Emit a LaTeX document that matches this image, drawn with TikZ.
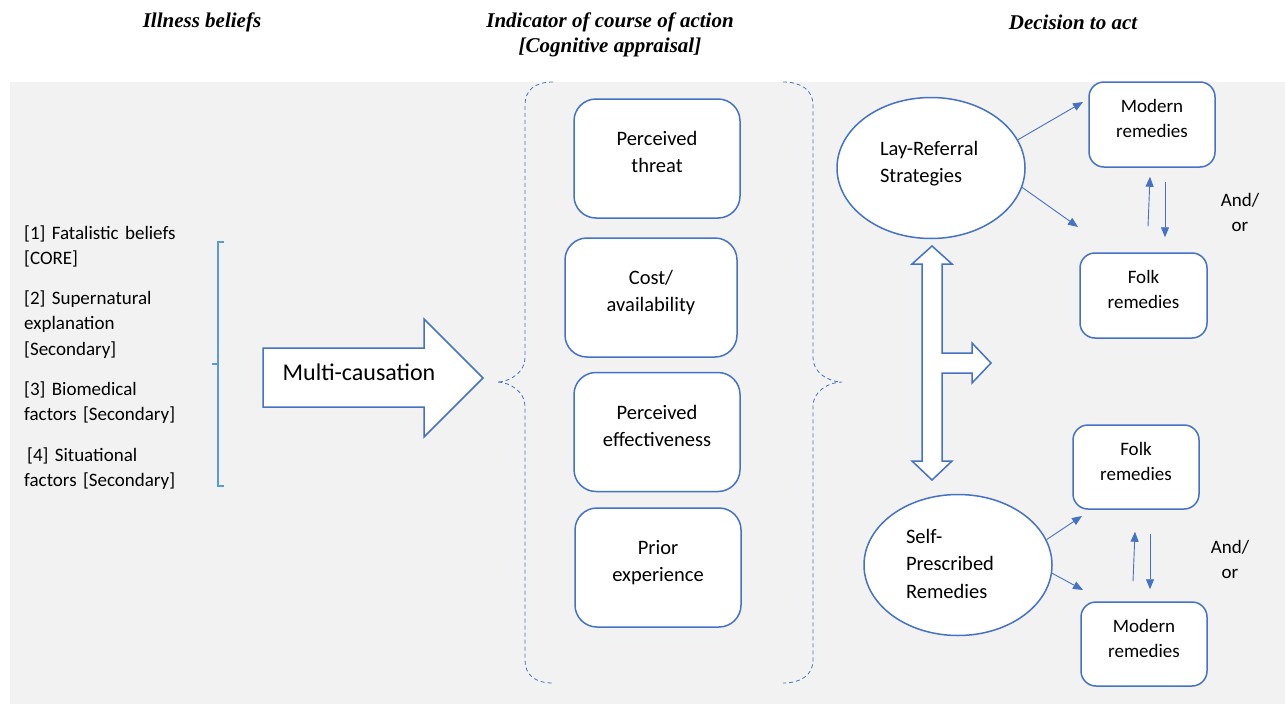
\documentclass[tikz,border=0pt]{standalone}
\usepackage{fontspec}
\setmainfont{Carlito}
\newfontfamily\headfont{Liberation Serif}
\usetikzlibrary{arrows.meta,shapes.geometric}
\definecolor{boxblue}{RGB}{68,114,196}
\definecolor{brkblue}{RGB}{91,155,213}
\definecolor{bggrey}{RGB}{242,242,242}
\tikzset{
  head/.style={font=\headfont\bfseries\itshape\fontsize{21}{25}\selectfont, align=center},
  factor/.style={draw=boxblue, line width=1.5pt, fill=white, rounded corners=22pt,
    minimum width=166pt, inner ysep=0pt, text height=73.5pt, text depth=45.5pt,
    align=center, font=\fontsize{20.5}{27}\selectfont},
  remedy/.style={draw=boxblue, line width=1.5pt, fill=white, rounded corners=15pt,
    minimum width=126pt, inner ysep=0pt, text height=55.5pt, text depth=29.5pt,
    align=center, font=\fontsize{19}{25.5}\selectfont},
  strat/.style={ellipse, draw=boxblue, line width=1.5pt, fill=white,
    minimum width=188pt, minimum height=141pt, text height=14pt, align=left,
    font=\fontsize{20.5}{27.5}\selectfont},
  arr/.style={draw=boxblue, line width=0.9pt, -{Triangle[length=10pt,width=8pt]}},
  blockarrow/.style={draw=boxblue, line width=1.5pt, fill=white},
  brace/.style={draw=boxblue, line width=0.8pt, dash pattern=on 4pt off 3pt},
}
\begin{document}
\begin{tikzpicture}[x=1pt,y=-1pt]
	\useasboundingbox (0,0) rectangle (1285,704);
	\fill[bggrey] (10,82) rectangle (1285,704);
	
	% column titles
	\node[head] (t1) at (202,22) {Illness beliefs};
	\node[head] (t2) at (610,35) {Indicator of course of action\\{[Cognitive appraisal]}};
	\node[head] (t3) at (1073,22) {Decision to act};
	
	% illness beliefs
	\node[anchor=base west, inner sep=0pt, text width=190pt, align=left, font=\fontsize{19}{25.8}\selectfont]
	at (24,239) (beliefs) {[1] Fatalistic beliefs\\{[CORE]}\\[13.5pt]
		{[2] Supernatural}\\explanation\\{[Secondary]}\\[13.5pt]
		{[3] Biomedical}\\factors [Secondary]\\[14.5pt]
		\hspace{3pt}[4] Situational\\factors [Secondary]};
	\draw[brkblue, line width=2pt] (224,242) -- (218,242) -- (218,486) -- (224,486);
	\draw[brkblue, line width=2pt] (218,364) -- (212,364);
	
	% multi-causation
	\draw[blockarrow] (263,348) -- (424,348) -- (424,319) -- (483,378)
	-- (424,437) -- (424,407) -- (263,407) -- cycle;
	\node[font=\fontsize{24}{28}\selectfont] at (359,372) (multi) {Multi-causation};
	
	% cognitive appraisal
	\draw[brace] (553,82) .. controls (535,82) and (525,90) .. (525,105) -- (525,358)
	.. controls (525,372) and (510,382) .. (497,382)
	.. controls (510,382) and (525,392) .. (525,406) -- (525,660)
	.. controls (525,675) and (535,683) .. (553,683);
	\draw[brace] (783,82) .. controls (801,82) and (813,90) .. (813,105) -- (813,358)
	.. controls (813,372) and (828,382) .. (842,382)
	.. controls (828,382) and (813,392) .. (813,406) -- (813,660)
	.. controls (813,675) and (801,683) .. (783,683);
	\node[factor] at (657,158.5) (threat) {Perceived\\threat};
	\node[factor, minimum width=172pt] at (651,297.5) (cost) {Cost/\\availability};
	\node[factor] at (657,432) (effect) {Perceived\\effectiveness};
	\node[factor] at (658,567.5) (prior) {Prior\\experience};
	
	% decision to act
	\node[strat, text width=102pt, text depth=40pt] at (931,168) (lay) {Lay-Referral\\Strategies};
	\node[strat, text width=104pt, text depth=58pt] at (958,565) (self) {Self-\\Prescribed\\Remedies};
	\draw[blockarrow] (932,246) -- (952,264) -- (942,264) -- (942,353) -- (972,353)
	-- (972,343) -- (991,363) -- (972,383) -- (972,373) -- (942,373) -- (942,461)
	-- (952,461) -- (932,480) -- (912,461) -- (922,461) -- (922,264) -- (912,264) -- cycle;
	
	\node[remedy] at (1152,124.5) (mod1) {Modern\\remedies};
	\node[remedy, minimum width=127pt] at (1143.5,295.5) (folk1) {Folk\\remedies};
	\node[remedy, text depth=28.5pt] at (1136,467) (folk2) {Folk\\remedies};
	\node[remedy, text depth=28.5pt] at (1144,644) (mod2) {Modern\\remedies};
	\node[align=center, font=\fontsize{19}{25}\selectfont] at (1240,212.5) (or1) {And/\\or};
	\node[align=center, font=\fontsize{19}{25}\selectfont] at (1230,559.5) (or2) {And/\\or};
	
	\coordinate (m1) at (1083,102);
	\coordinate (f1) at (1078,227);
	\coordinate (f2) at (1082,516);
	\coordinate (m2) at (1083,590);
	\draw[arr] (lay.18) -- (m1);
	\draw[arr] (lay.348) -- (f1);
	\draw[arr] (self.16) -- (f2);
	\draw[arr] (self.355) -- (m2);
	
	\draw[arr] ([xshift=4.5pt,yshift=26pt]folk1.north) -- ([xshift=-2pt,yshift=-9pt]mod1.south);
	\draw[arr] ([xshift=13pt,yshift=-14pt]mod1.south) -- ([xshift=21.5pt,yshift=15pt]folk1.north);
	\draw[arr] ([xshift=-11pt,yshift=20pt]mod2.north) -- ([xshift=-1pt,yshift=-22pt]folk2.south);
	\draw[arr] ([xshift=14pt,yshift=-24pt]folk2.south) -- ([xshift=6pt,yshift=12pt]mod2.north);
\end{tikzpicture}
\end{document}
